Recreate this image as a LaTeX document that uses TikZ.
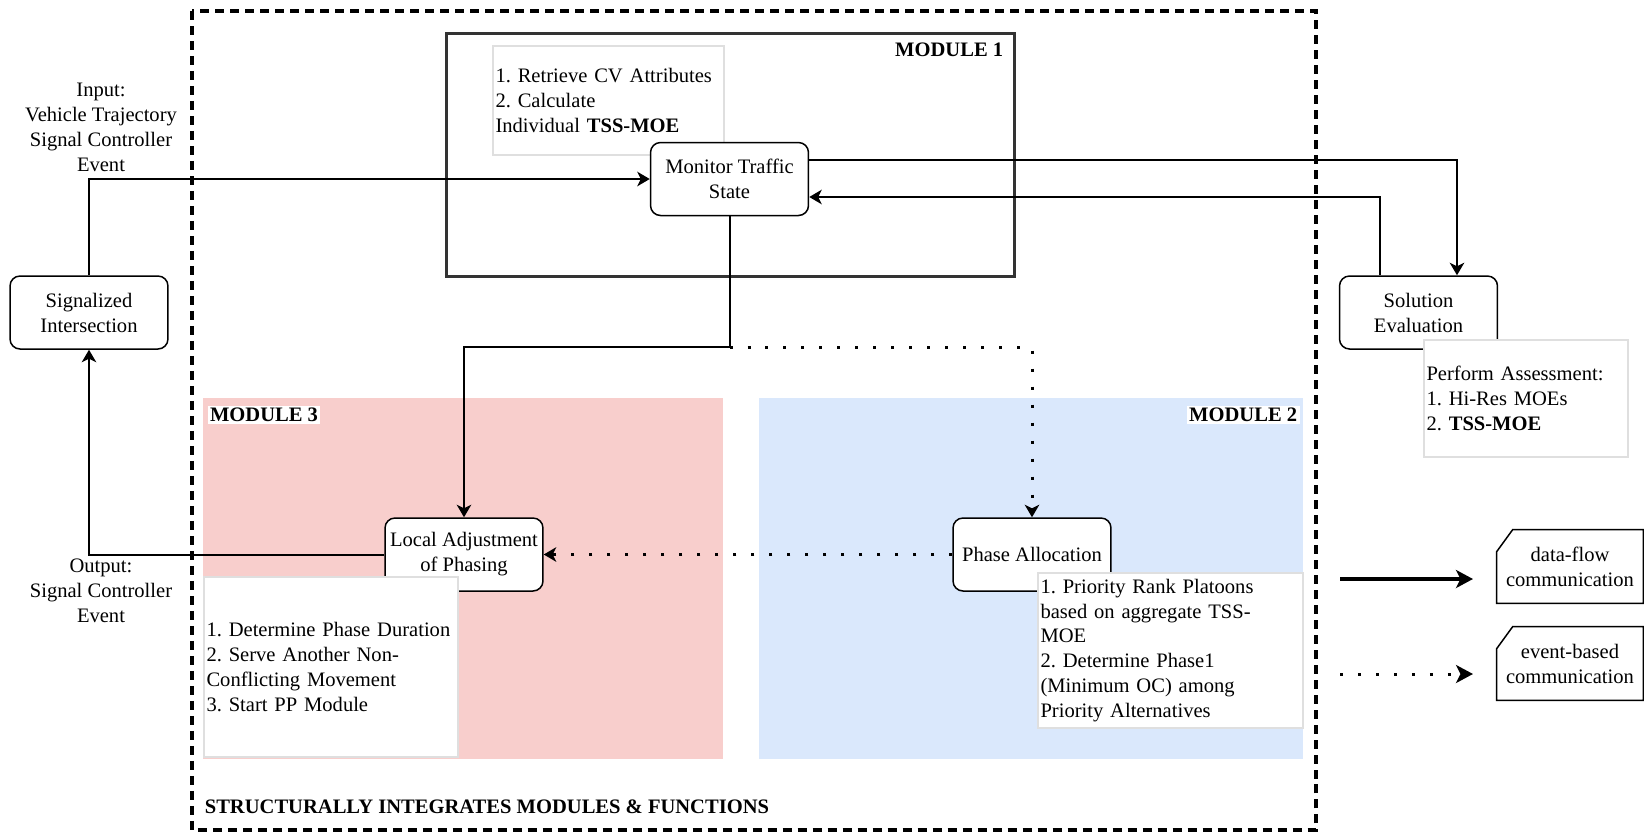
\documentclass[tikz,border=0pt]{standalone}
\usepackage{fontspec}
\setmainfont{Liberation Serif}
\usepackage{tikz}
\usetikzlibrary{arrows.meta,positioning,calc}
\frenchspacing
\newcommand{\picsize}{\fontsize{11.7}{14.2}\selectfont}
\definecolor{modpink}{HTML}{F8CECC}
\definecolor{modblue}{HTML}{DAE8FC}
\tikzset{box/.style={rectangle, rounded corners=0.2cm, draw=black, line width=0.03cm, fill=white, minimum width=3.16cm, minimum height=1.46cm, align=center, inner sep=0pt},
note/.style={rectangle, draw=gray!25, line width=0.03cm, fill=white, align=left, inner sep=0.05cm},
modlabel/.style={font=\picsize\bfseries, fill=white, inner sep=0.05cm},
flow/.style={-{Stealth[length=0.25cm,width=0.29cm,inset=0.07cm]}, line width=0.04cm},
event/.style={flow, dash pattern=on 0.06cm off 0.3cm, line width=0.06cm},
card/.style={align=center, minimum width=2.92cm, minimum height=1.46cm, inner sep=0pt}}

\begin{document}
\begin{tikzpicture}[x=0.02cm, y=-0.02cm, font=\picsize]
	\useasboundingbox (0,0) rectangle (1644,833);
	\draw[line width=0.07cm, dash pattern=on 0.18cm off 0.12cm] (192,11) rectangle (1316,830);
	\fill[modpink] (203,398) rectangle (723,759);
	\fill[modblue] (759,398) rectangle (1303,759);
	\draw[black!80, line width=0.06cm] (446,33) rectangle (1014,276);
	\node[modlabel, anchor=east] (mod1) at (1006,50) {MODULE 1};
	\node[modlabel] (mod3) at (264,415) {MODULE 3};
	\node[modlabel, anchor=east] (mod2) at (1300,415) {MODULE 2};
	\node[modlabel, fill=none, anchor=west] (frame) at (202,807) {STRUCTURALLY INTEGRATES MODULES \& FUNCTIONS};
	\node[note, text width=4.52cm, minimum height=2.18cm] (note1) at (608.5,100.5) {1. Retrieve CV Attributes\\2. Calculate\\Individual \textbf{TSS-MOE}};
	\node[box] (monitor) at (729.5,179) {Monitor Traffic\\State};
	\node[box] (sigint) at (89,312.5) {Signalized\\Intersection};
	\node[box] (soleval) at (1418.5,312.5) {Solution\\Evaluation};
	\node[box] (localadj) at (464,554.5) {Local Adjustment\\of Phasing};
	\node[box] (phasealloc) at (1032,554.5) {Phase Allocation};
	\node[note, text width=3.98cm, minimum height=2.34cm] (noteeval) at (1526,398.5) {Perform Assessment:\\1. Hi-Res MOEs\\2. \textbf{TSS-MOE}};
	\node[note, text width=4.98cm, minimum height=3.6cm] (note3) at (331,667) {1. Determine Phase Duration\\2. Serve Another Non-\\Conflicting Movement\\3. Start PP Module\\ };
	\node[note, text width=5.2cm, minimum height=3.1cm] (note2) at (1170.5,650.5) {1. Priority Rank Platoons\\based on aggregate TSS-\\MOE\\2. Determine Phase1\\(Minimum OC) among\\Priority Alternatives};
	\node[align=center] (input) at (101,127) {Input:\\Vehicle Trajectory\\Signal Controller\\Event};
	\node[align=center] (output) at (101,591) {Output:\\Signal Controller\\Event};
	\coordinate (split) at ($(monitor.south)+(0,131)$);
	\draw[flow] (sigint.north) |- (monitor.west);
	\draw[flow] ($(monitor.east)+(0,-19)$) -| ($(soleval.north)+(38.5,0)$);
	\draw[flow] ($(soleval.north)+(-38.5,0)$) |- ($(monitor.east)+(0,18)$);
	\draw[flow] (monitor.south) -- (split) -| (localadj.north);
	\draw[event] (split) -| (phasealloc.north);
	\draw[event] (phasealloc.west) -- (localadj.east);
	\draw[flow] (localadj.west) -| (sigint.south);
	\node[card] (dflow) at (1570,566.5) {data-flow\\communication};
	\node[card] (eflow) at (1570,663.5) {event-based\\communication};
	\foreach \c in {dflow,eflow}
		\draw[line width=0.03cm] ($(\c.north west)+(16,0)$) -- (\c.north east) -- (\c.south east) -- (\c.south west) -- ($(\c.north west)+(0,22)$) -- cycle;
	\coordinate (ds) at (1340,579);
	\coordinate (de) at (1473,579);
	\coordinate (es) at (1340,674);
	\coordinate (ee) at (1473,674);
	\draw[-{Stealth[length=0.34cm,width=0.36cm,inset=0.09cm]}, line width=0.08cm] (ds) -- (de);
	\draw[event, -{Stealth[length=0.34cm,width=0.36cm,inset=0.09cm]}] (es) -- (ee);
\end{tikzpicture}
\end{document}
